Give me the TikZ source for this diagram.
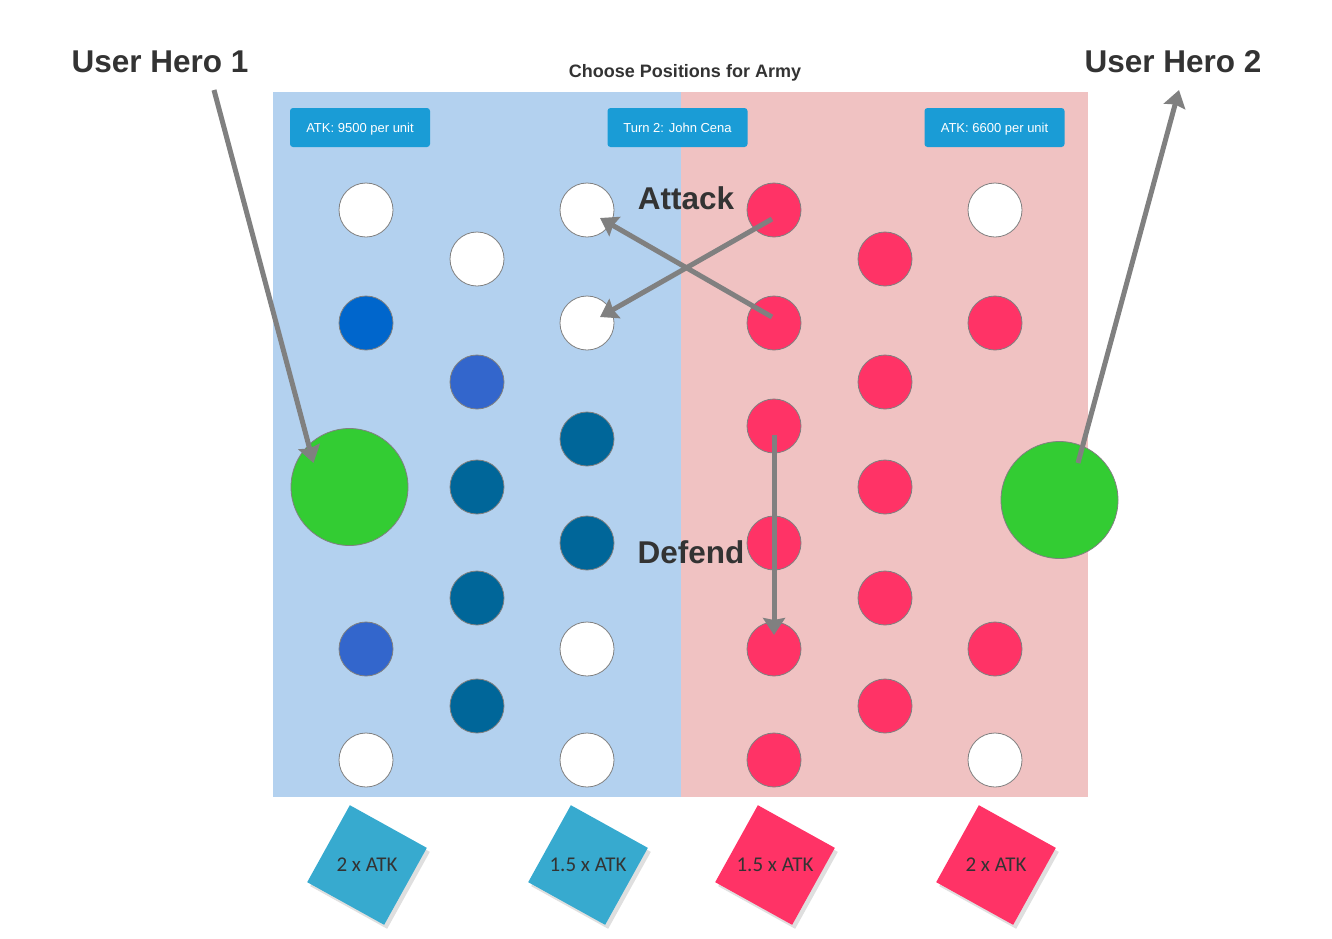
\documentclass[tikz,border=0pt]{standalone}
\usepackage{fontspec}
\setmainfont{Liberation Sans}
\newfontfamily\notefont{Carlito}
\definecolor{FieldBlue}{HTML}{B3D1EF}
\definecolor{FieldPink}{HTML}{F0C2C2}
\definecolor{ButtonBlue}{HTML}{1A9CD6}
\definecolor{UnitRed}{HTML}{FF3366}
\definecolor{UnitDeep}{HTML}{006699}
\definecolor{UnitMid}{HTML}{3366CC}
\definecolor{UnitBright}{HTML}{0066CC}
\definecolor{HeroGreen}{HTML}{33CC33}
\definecolor{NoteBlue}{HTML}{37AACF}
\definecolor{TextDark}{HTML}{333333}
\definecolor{ArrowGray}{HTML}{808080}
\usetikzlibrary{calc, arrows.meta, shadows}

\begin{document}
\begin{tikzpicture}[x = 1pt, y = -1pt,
    unit/.style = {circle, draw = ArrowGray, line width = 0.8pt, minimum size = 54pt, inner sep = 0pt},
    hero/.style = {unit, minimum size = 117pt, fill = HeroGreen},
    button/.style = {fill = ButtonBlue, rounded corners = 3pt, minimum width = 140pt, minimum height = 39pt,
        text = white, font = \fontsize{13}{15}\selectfont, text height = 9.3pt, text depth = 0pt},
    note/.style = {minimum size = 88pt, rotate = -29,
        drop shadow = {shadow xshift = 3pt, shadow yshift = -4pt, opacity = 0.25}},
    notetext/.style = {font = \notefont\fontsize{21}{24}\selectfont, text = TextDark},
    bigtext/.style = {font = \fontsize{31.5}{36}\selectfont\bfseries, text = TextDark, anchor = base},
    move/.style = {draw = ArrowGray, line width = 5pt, -{Stealth[length = 17pt, width = 22pt, inset = 2pt]}}]

\useasboundingbox (0, 0) rectangle (1332, 938);

% battle field
\fill[FieldBlue] (273, 92) rectangle (681, 797);
\fill[FieldPink] (681, 92) rectangle (1088, 797);

\node[font = \fontsize{18}{21}\selectfont\bfseries, text = TextDark, anchor = base] (title) at (685, 77) {Choose Positions for Army};
\node[bigtext] (label1) at (160, 72) {User Hero 1};
\node[bigtext] (label2) at (1173, 72) {User Hero 2};

\node[button] (atk1) at (360, 127.5) {ATK: 9500 per unit};
\node[button] (turn) at (677.5, 127.5) {Turn 2: John Cena};
\node[button] (atk2) at (994.5, 127.5) {ATK: 6600 per unit};

% blue army
\node[unit, fill = white] (A1) at (366, 210) {};
\node[unit, fill = UnitBright] (A2) at (366, 323) {};
\node[unit, fill = UnitMid] (A3) at (366, 649) {};
\node[unit, fill = white] (A4) at (366, 760) {};
\node[unit, fill = white] (B1) at (477, 259) {};
\node[unit, fill = UnitMid] (B2) at (477, 382) {};
\node[unit, fill = UnitDeep] (B3) at (477, 487) {};
\node[unit, fill = UnitDeep] (B4) at (477, 598) {};
\node[unit, fill = UnitDeep] (B5) at (477, 706) {};
\node[unit, fill = white] (C1) at (587, 210) {};
\node[unit, fill = white] (C2) at (587, 323) {};
\node[unit, fill = UnitDeep] (C3) at (587, 439) {};
\node[unit, fill = UnitDeep] (C4) at (587, 543) {};
\node[unit, fill = white] (C5) at (587, 649) {};
\node[unit, fill = white] (C6) at (587, 760) {};

% red army
\node[unit, fill = UnitRed] (D1) at (774, 210) {};
\node[unit, fill = UnitRed] (D2) at (774, 323) {};
\node[unit, fill = UnitRed] (D3) at (774, 426) {};
\node[unit, fill = UnitRed] (D4) at (774, 543) {};
\node[unit, fill = UnitRed] (D5) at (774, 649) {};
\node[unit, fill = UnitRed] (D6) at (774, 760) {};
\node[unit, fill = UnitRed] (E1) at (885, 259) {};
\node[unit, fill = UnitRed] (E2) at (885, 382) {};
\node[unit, fill = UnitRed] (E3) at (885, 487) {};
\node[unit, fill = UnitRed] (E4) at (885, 598) {};
\node[unit, fill = UnitRed] (E5) at (885, 706) {};
\node[unit, fill = white] (F1) at (995, 210) {};
\node[unit, fill = UnitRed] (F2) at (995, 323) {};
\node[unit, fill = UnitRed] (F3) at (995, 649) {};
\node[unit, fill = white] (F4) at (995, 760) {};

\node[hero] (H1) at (349.5, 487) {};
\node[hero] (H2) at (1059.5, 500) {};

\node[bigtext] (attack) at (686, 209) {Attack};
\node[bigtext] (defend) at (691, 563) {Defend};

% moves
\coordinate (from1) at (214, 90);
\coordinate (to2) at (1179, 90);
\draw[move] (from1) -- ($(H1) + (-36, -24)$);
\draw[move] ($(H2) + (18.5, -37)$) -- (to2);
\draw[move] ($(D2) + (-2, -6)$) -- ($(C1) + (13, 8)$);
\draw[move] ($(D1) + (-2, 9)$) -- ($(C2) + (13, -6)$);
\draw[move] ($(D3) + (0, 9)$) -- ($(D5) + (0, -14)$);

% multipliers
\node[note, fill = NoteBlue] (N1) at (367, 865) {};
\node[note, fill = NoteBlue] (N2) at (588, 865) {};
\node[note, fill = UnitRed] (N3) at (775, 865) {};
\node[note, fill = UnitRed] (N4) at (996, 865) {};
\node[notetext] (t1) at (N1) {2 x ATK};
\node[notetext] (t2) at (N2) {1.5 x ATK};
\node[notetext] (t3) at (N3) {1.5 x ATK};
\node[notetext] (t4) at (N4) {2 x ATK};

\end{tikzpicture}
\end{document}
